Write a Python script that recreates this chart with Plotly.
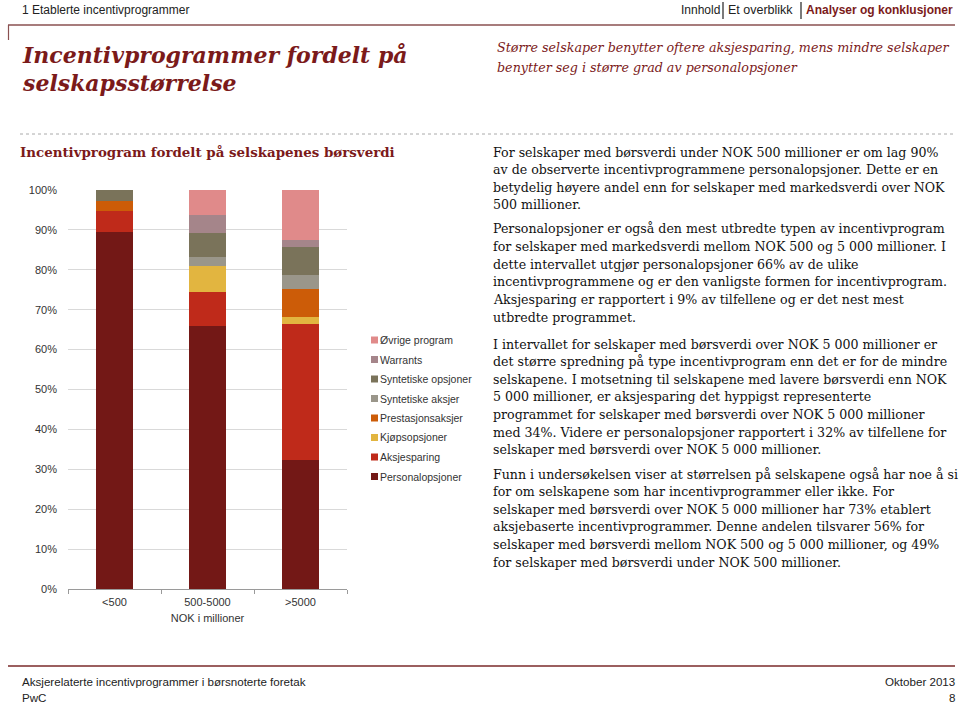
import plotly.graph_objects as go

# ---------------- data ----------------
categories = ["<500", "500-5000", ">5000"]
series_names = ["Personalopsjoner", "Aksjesparing", "Kjøpsopsjoner", "Prestasjonsaksjer",
                "Syntetiske aksjer", "Syntetiske opsjoner", "Warrants", "Øvrige program"]
personalopsjoner = [89.4, 66.0, 32.3]
aksjesparing = [5.3, 8.4, 34.0]
kjopsopsjoner = [0.0, 6.5, 1.8]
prestasjonsaksjer = [2.6, 0.0, 7.2]
syntetiske_aksjer = [0.0, 2.3, 3.4]
syntetiske_opsjoner = [2.7, 6.1, 7.1]
warrants = [0.0, 4.5, 1.7]
ovrige_program = [0.0, 6.2, 12.5]
series_values = [personalopsjoner, aksjesparing, kjopsopsjoner, prestasjonsaksjer,
                 syntetiske_aksjer, syntetiske_opsjoner, warrants, ovrige_program]
y_tick_values = [0, 10, 20, 30, 40, 50, 60, 70, 80, 90, 100]
y_tick_labels = ["0%", "10%", "20%", "30%", "40%", "50%", "60%", "70%", "80%", "90%", "100%"]

colors = ["#731816", "#BF2A1A", "#E2B540", "#CC5C08",
          "#9A968A", "#7A735A", "#A5858A", "#E08A8A"]

W, H = 960, 703
def px(x):
    return x / W
def py(y):
    return 1 - y / H

fig = go.Figure()
for name, vals, col in zip(series_names, series_values, colors):
    fig.add_trace(go.Bar(x=categories, y=vals, name=name, marker_color=col,
                         marker_line_width=0, showlegend=False))

DARKRED = "#7B1A1A"
SERIF = "DejaVu Serif"
SANS = "Liberation Sans, Arial"

fig.update_layout(
    width=W, height=H, margin=dict(l=0, r=0, t=0, b=0),
    paper_bgcolor="white", plot_bgcolor="white",
    barmode="stack", bargap=0.6,
    font=dict(family=SANS, size=11, color="#333333"),
    xaxis=dict(domain=[px(68), px(347)], type="category", showline=True,
               linecolor="#9a9a9a", linewidth=1, ticks="outside", tickson="boundaries",
               ticklen=4, tickcolor="#9a9a9a", showgrid=False, automargin=False,
               ticklabelstandoff=3,
               tickfont=dict(family=SANS, size=11, color="#333333"),
               title=dict(text="NOK i millioner", standoff=7,
                          font=dict(family=SANS, size=11, color="#333333"))),
    yaxis=dict(domain=[py(589), py(190)], range=[0, 100], tickvals=y_tick_values,
               ticktext=y_tick_labels, showgrid=True, gridcolor="#d9d9d9", gridwidth=1,
               zeroline=False, showline=False, automargin=False, ticklabelstandoff=10,
               tickfont=dict(family=SANS, size=11, color="#333333")),
)

ann = []
shapes = []

def text(x, y, s, size, color="#000000", family=SANS, anchor="left", bold=False, italic=False):
    if bold:
        s = "<b>" + s + "</b>"
    if italic:
        s = "<i>" + s + "</i>"
    xx = x - 2 if anchor == "left" else x + 2
    ann.append(dict(x=px(xx), y=py(y), xref="paper", yref="paper", text=s, showarrow=False,
                    xanchor=anchor, yanchor="middle",
                    font=dict(family=family, size=size, color=color)))

def line(x0, y0, x1, y1, color, width=1, dash="solid"):
    shapes.append(dict(type="line", xref="paper", yref="paper", x0=px(x0), y0=py(y0),
                       x1=px(x1), y1=py(y1), line=dict(color=color, width=width, dash=dash)))

# header
text(22, 10, "1 Etablerte incentivprogrammer", 12, "#222222")
text(681, 10, "Innhold", 12, "#222222")
text(728, 10, "Et overblikk", 12.5, "#222222")
text(806, 10, "Analyser og konklusjoner", 12, DARKRED, bold=True)
line(723, 2, 723, 19, "#222222", 1.2)
line(801, 2, 801, 19, "#222222", 1.2)
line(8, 25, 955, 25, "#8a5050", 1.5)
line(8.5, 25, 8.5, 40, "#8a5050", 1.2)

# titles
text(22, 55, "Incentivprogrammer fordelt på", 22, DARKRED, SERIF, bold=True, italic=True)
text(22, 83, "selskapsstørrelse", 22, DARKRED, SERIF, bold=True, italic=True)
text(497, 47, "Større selskaper benytter oftere aksjesparing, mens mindre selskaper", 12.7, DARKRED, SERIF, italic=True)
text(497, 67, "benytter seg i større grad av personalopsjoner", 12.7, DARKRED, SERIF, italic=True)

line(20, 134, 955, 134, "#aaaaaa", 1, "dot")
text(20, 152, "Incentivprogram fordelt på selskapenes børsverdi", 13.4, DARKRED, SERIF, bold=True)

# legend (drawn manually, reversed order)
leg_y0 = 340
for i, (name, col) in enumerate(reversed(list(zip(series_names, colors)))):
    y = leg_y0 + i * 19.5
    shapes.append(dict(type="rect", xref="paper", yref="paper", x0=px(371), x1=px(378),
                       y0=py(y - 3.5), y1=py(y + 3.5), fillcolor=col, line=dict(width=0)))
    text(380, y, name, 10.5, "#333333")

# body text
paragraphs = [
    ["For selskaper med børsverdi under NOK 500 millioner er om lag 90%",
     "av de observerte incentivprogrammene personalopsjoner. Dette er en",
     "betydelig høyere andel enn for selskaper med markedsverdi over NOK",
     "500 millioner."],
    ["Personalopsjoner er også den mest utbredte typen av incentivprogram",
     "for selskaper med markedsverdi mellom NOK 500 og 5 000 millioner. I",
     "dette intervallet utgjør personalopsjoner 66% av de ulike",
     "incentivprogrammene og er den vanligste formen for incentivprogram.",
     "Aksjesparing er rapportert i 9% av tilfellene og er det nest mest",
     "utbredte programmet."],
    ["I intervallet for selskaper med børsverdi over NOK 5 000 millioner er",
     "det større spredning på type incentivprogram enn det er for de mindre",
     "selskapene. I motsetning til selskapene med lavere børsverdi enn NOK",
     "5 000 millioner, er aksjesparing det hyppigst representerte",
     "programmet for selskaper med børsverdi over NOK 5 000 millioner",
     "med 34%. Videre er personalopsjoner rapportert i 32% av tilfellene for",
     "selskaper med børsverdi over NOK 5 000 millioner."],
    ["Funn i undersøkelsen viser at størrelsen på selskapene også har noe å si",
     "for om selskapene som har incentivprogrammer eller ikke. For",
     "selskaper med børsverdi over NOK 5 000 millioner har 73% etablert",
     "aksjebaserte incentivprogrammer. Denne andelen tilsvarer 56% for",
     "selskaper med børsverdi mellom NOK 500 og 5 000 millioner, og 49%",
     "for selskaper med børsverdi under NOK 500 millioner."],
]
para_starts = [152, 229, 344, 474]
for start, lines in zip(para_starts, paragraphs):
    for j, s in enumerate(lines):
        text(493, start + j * 17.6, s, 12.6, "#111111", SERIF)

# footer
line(8, 666, 955, 666, "#7a2a2a", 1.5)
text(22, 681, "Aksjerelaterte incentivprogrammer i børsnoterte foretak", 11.6, "#222222")
text(22, 697, "PwC", 11.6, "#222222")
text(955, 681, "Oktober 2013", 11.6, "#222222", anchor="right")
text(955, 697, "8", 11.6, "#222222", anchor="right")

fig.update_layout(annotations=ann, shapes=shapes)
fig.write_html("out.html", config={"displayModeBar": False},
               post_script="document.body.style.margin='0';document.body.style.overflow='hidden';")
